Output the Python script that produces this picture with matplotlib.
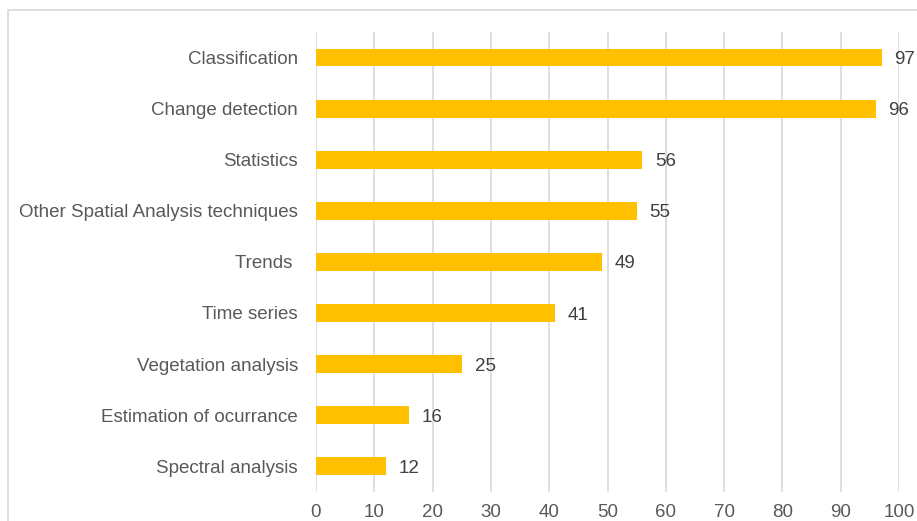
import matplotlib.pyplot as plt
from matplotlib.patches import Rectangle

# data
categories = ["Classification", "Change detection", "Statistics",
              "Other Spatial Analysis techniques", "Trends ", "Time series",
              "Vegetation analysis", "Estimation of ocurrance", "Spectral analysis"]
counts = [97, 96, 56, 55, 49, 41, 25, 16, 12]
xticks = [0, 10, 20, 30, 40, 50, 60, 70, 80, 90, 100]

BAR_COLOR = "#FFC000"
TEXT_COLOR = "#595959"
GRID_COLOR = "#D9D9D9"

plt.rcParams["font.family"] = ["Liberation Sans", "DejaVu Sans"]

fig = plt.figure(figsize=(9.17, 5.21), dpi=100)
ax = fig.add_axes([0.3446, 0.056, 0.6358, 0.8826])

# outer chart frame (cut off at right and bottom in the original)
fig.patches.append(Rectangle((8 / 917, -0.2), 1.5, 1.2 - 10 / 521,
                             transform=fig.transFigure, fill=False,
                             edgecolor=GRID_COLOR, linewidth=1.2))

pos = list(range(len(categories)))
ax.barh(pos, counts, height=0.35, color=BAR_COLOR, zorder=3)

for p, v in zip(pos, counts):
    ax.text(v + 2.2, p + 0.04, str(v), va="center", ha="left",
            fontsize=13.5, color="#404040")

ax.set_yticks(pos)
ax.set_yticklabels(categories, fontsize=13.5, color=TEXT_COLOR)
ax.set_ylim(len(categories) - 0.5, -0.5)

ax.set_xlim(0, 100)
ax.set_xticks(xticks)
ax.set_xticklabels([str(t) for t in xticks], fontsize=13.5, color=TEXT_COLOR)
ax.tick_params(axis="y", length=0, pad=13)
ax.tick_params(axis="x", length=0, pad=9)

ax.grid(axis="x", color=GRID_COLOR, linewidth=1.2, zorder=0)
for s in ax.spines.values():
    s.set_visible(False)

fig.savefig("out.png", dpi=100)
